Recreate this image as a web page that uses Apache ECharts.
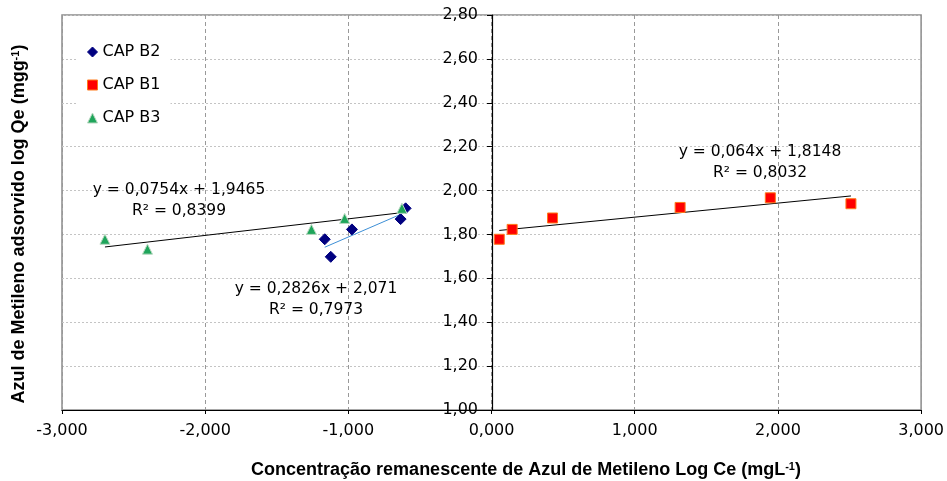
<!DOCTYPE html>
<html>
<head>
<meta charset="utf-8">
<script src="https://cdn.jsdelivr.net/npm/echarts@6/dist/echarts.min.js"></script>
<style>
  html, body { margin: 0; padding: 0; background: #fff; }
  #chart { width: 947px; height: 481px; }
</style>
</head>
<body>
<div id="chart"></div>
<script>
// 数据: Log Ce / Log Qe
const seriesNames = ['CAP B2', 'CAP B1', 'CAP B3']
const b2X = [-1.165, -1.123, -0.975, -0.635, -0.600]
const b2Y = [1.778, 1.698, 1.823, 1.870, 1.919]
const b1X = [0.054, 0.144, 0.426, 1.317, 1.947, 2.510]
const b1Y = [1.778, 1.823, 1.875, 1.923, 1.967, 1.940]
const b3X = [-2.700, -2.403, -1.258, -1.026, -0.626]
const b3Y = [1.778, 1.733, 1.823, 1.873, 1.919]
// 线性趋势线 y = a*x + b
const slopes = [0.2826, 0.064, 0.0754]
const intercepts = [2.071, 1.8148, 1.9465]
const trendFrom = [-1.165, 0.054, -2.700]
const trendTo = [-0.600, 2.510, -0.607]
const trendLabels = [
  ['y = 0,2826x + 2,071', 'R² = 0,7973'],
  ['y = 0,064x + 1,8148', 'R² = 0,8032'],
  ['y = 0,0754x + 1,9465', 'R² = 0,8399']
]
const xTicks = { min: -3, max: 3, step: 1 }
const yTicks = { min: 1, max: 2.8, step: 0.2 }

const chart = echarts.init(document.getElementById('chart'))
const font = 'DejaVu Sans'
const comma = (v, d) => v.toFixed(d).replace('.', ',')

// 绘图区尺寸
const gridLeft = 62
const gridRight = 25
const plotW = 947 - gridLeft - gridRight
// y轴放在 x=0 处 (向内偏移)
const yAxisShift = plotW * (0 - xTicks.min) / (xTicks.max - xTicks.min)

const pts = (xs, ys) => xs.map((x, i) => [x, ys[i]])
const trend = i => [trendFrom[i], trendTo[i]].map(x => [x, slopes[i] * x + intercepts[i]])

const styles = [
  { symbol: 'diamond', size: 11, color: '#000080', border: '#000080', line: '#3d8fd6' },
  { symbol: 'rect', size: 10, color: '#ff0000', border: '#ff7a1a', line: '#000' },
  { symbol: 'triangle', size: 10, color: '#1fa55b', border: '#b8d8c0', line: '#000' }
]
const allPts = [pts(b2X, b2Y), pts(b1X, b1Y), pts(b3X, b3Y)]

const series = []
allPts.forEach((d, i) => {
  series.push({
    name: seriesNames[i],
    type: 'scatter',
    symbol: styles[i].symbol,
    symbolSize: styles[i].size,
    itemStyle: { color: styles[i].color, borderColor: styles[i].border, borderWidth: 1, opacity: 1 },
    data: d,
    z: 5
  })
})
// 趋势线
allPts.forEach((d, i) => {
  series.push({
    name: 'trend' + i,
    type: 'line',
    showSymbol: false,
    silent: true,
    lineStyle: { color: styles[i].line, width: 1 },
    data: trend(i),
    z: 4
  })
})

// 方程文字位置 (像素)
const labelPos = [[316, 299], [760, 162], [179, 200]]
const eqGraphics = trendLabels.map((t, i) => ({
  type: 'text',
  x: labelPos[i][0],
  y: labelPos[i][1],
  z: 10,
  style: {
    text: t[0] + '\n' + t[1],
    font: '15.5px ' + font,
    fill: '#000',
    align: 'center',
    verticalAlign: 'middle',
    lineHeight: 21
  }
}))

const titleRich = {
  a: { fontFamily: 'Liberation Sans', fontWeight: 'bold', fontSize: 18, fill: '#000' },
  s: { fontFamily: 'Liberation Sans', fontWeight: 'bold', fontSize: 11, fill: '#000', verticalAlign: 'top' }
}

const option = {
  animation: false,
  backgroundColor: '#fff',
  grid: {
    left: gridLeft, right: gridRight, top: 15, bottom: 71,
    show: true, borderColor: '#8c8c8c', borderWidth: 1.5
  },
  legend: {
    orient: 'vertical',
    left: 77,
    top: 35,
    padding: [8, 10],
    itemGap: 15,
    itemWidth: 10,
    itemHeight: 10,
    backgroundColor: '#fff',
    textStyle: { fontFamily: font, fontSize: 16, color: '#000', lineHeight: 18 },
    data: seriesNames.map((n, i) => ({
      name: n,
      icon: styles[i].symbol,
      itemStyle: { color: styles[i].color, borderColor: styles[i].border, borderWidth: 1 }
    }))
  },
  xAxis: {
    type: 'value',
    min: xTicks.min, max: xTicks.max, interval: xTicks.step,
    axisLine: { onZero: false, lineStyle: { color: '#000', width: 1.2 } },
    axisTick: { show: true, length: 4, lineStyle: { color: '#000' } },
    axisLabel: { formatter: v => comma(v, 3), fontFamily: font, fontSize: 16, color: '#000', margin: 13 },
    splitLine: { show: true, lineStyle: { color: '#999', type: [4, 3], width: 1 } }
  },
  yAxis: {
    type: 'value',
    position: 'left',
    offset: -yAxisShift,
    min: yTicks.min, max: yTicks.max, interval: yTicks.step,
    axisLine: { show: true, onZero: false, lineStyle: { color: '#000', width: 1.2 } },
    axisTick: { show: true, length: 5, lineStyle: { color: '#000' } },
    axisLabel: { formatter: v => comma(v, 2), fontFamily: font, fontSize: 16, color: '#000', margin: 14 },
    splitLine: { show: true, lineStyle: { color: '#c4c4c4', type: [2, 2], width: 1 } }
  },
  graphic: [
    {
      type: 'text',
      x: 526, y: 470,
      style: {
        text: '{a|Concentração remanescente de Azul de Metileno Log Ce (mgL}{s|-1}{a|)}',
        align: 'center', verticalAlign: 'middle',
        rich: titleRich
      }
    },
    {
      type: 'text',
      x: 19, y: 224,
      rotation: Math.PI / 2,
      style: {
        text: '{a|Azul de Metileno adsorvido log Qe (mgg}{s|-1}{a|)}',
        align: 'center', verticalAlign: 'middle',
        rich: titleRich
      }
    }
  ].concat(eqGraphics),
  series: series
}
chart.setOption(option)
</script>
</body>
</html>
